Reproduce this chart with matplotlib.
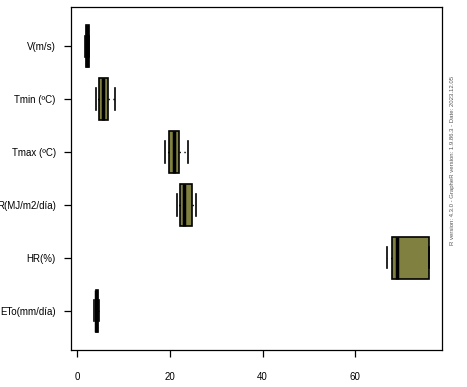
import matplotlib
matplotlib.use("Agg")
import matplotlib.pyplot as plt

plt.rcParams['font.family'] = ['Liberation Sans', 'DejaVu Sans']

# variables, bottom to top
labels = ['ETo(mm/día)', 'HR(%)', 'R(MJ/m2/día)', 'Tmax (ºC)', 'Tmin (ºC)', 'V(m/s)']
whislo = [3.6, 66.9, 21.6, 19.0, 4.2, 1.7]
q1 = [4.0, 68.0, 22.3, 19.9, 4.8, 1.95]
med = [4.2, 69.0, 23.1, 20.9, 5.7, 2.2]
q3 = [4.5, 75.9, 24.7, 21.9, 6.6, 2.5]
whishi = [4.8, 75.9, 25.7, 24.0, 8.2, 2.5]
xticks = [0, 20, 40, 60]
stamp = "R version: 4.3.0 - GrapheR version: 1.9.86.3 - Date: 2023.12.05"

stats = []
for i in range(len(labels)):
    stats.append(dict(label=labels[i], whislo=whislo[i], q1=q1[i], med=med[i],
                      q3=q3[i], whishi=whishi[i], fliers=[]))

fig = plt.figure(figsize=(4.67, 3.87), dpi=100)
ax = fig.add_axes([0.152, 0.0956, 0.7945, 0.8864])

pos = list(range(1, len(labels) + 1))
ax.bxp(stats, positions=pos, vert=False, widths=0.8, capwidths=0.4,
       patch_artist=True, showfliers=False,
       boxprops=dict(facecolor='#808040', edgecolor='black', linewidth=1.2),
       medianprops=dict(color='black', linewidth=2.5),
       whiskerprops=dict(color='black', linewidth=1, linestyle=(0, (1, 2.5))),
       capprops=dict(color='black', linewidth=1.2))

ax.set_ylim(0.26, 6.74)
ax.set_xlim(-1.3, 78.7)
ax.set_yticks(pos)
ax.set_yticklabels(labels, fontsize=7)
ax.set_xticks(xticks)
ax.set_xticklabels([str(t) for t in xticks], fontsize=7)
ax.tick_params(axis='y', length=5, width=0.9, pad=6)
ax.tick_params(axis='x', length=5, width=0.9, pad=11)
for s in ax.spines.values():
    s.set_linewidth(0.9)

fig.text(0.968, 0.585, stamp, rotation=90, fontsize=4.3, color='#555555',
         ha='center', va='center')

fig.savefig('out.png', dpi=100)
